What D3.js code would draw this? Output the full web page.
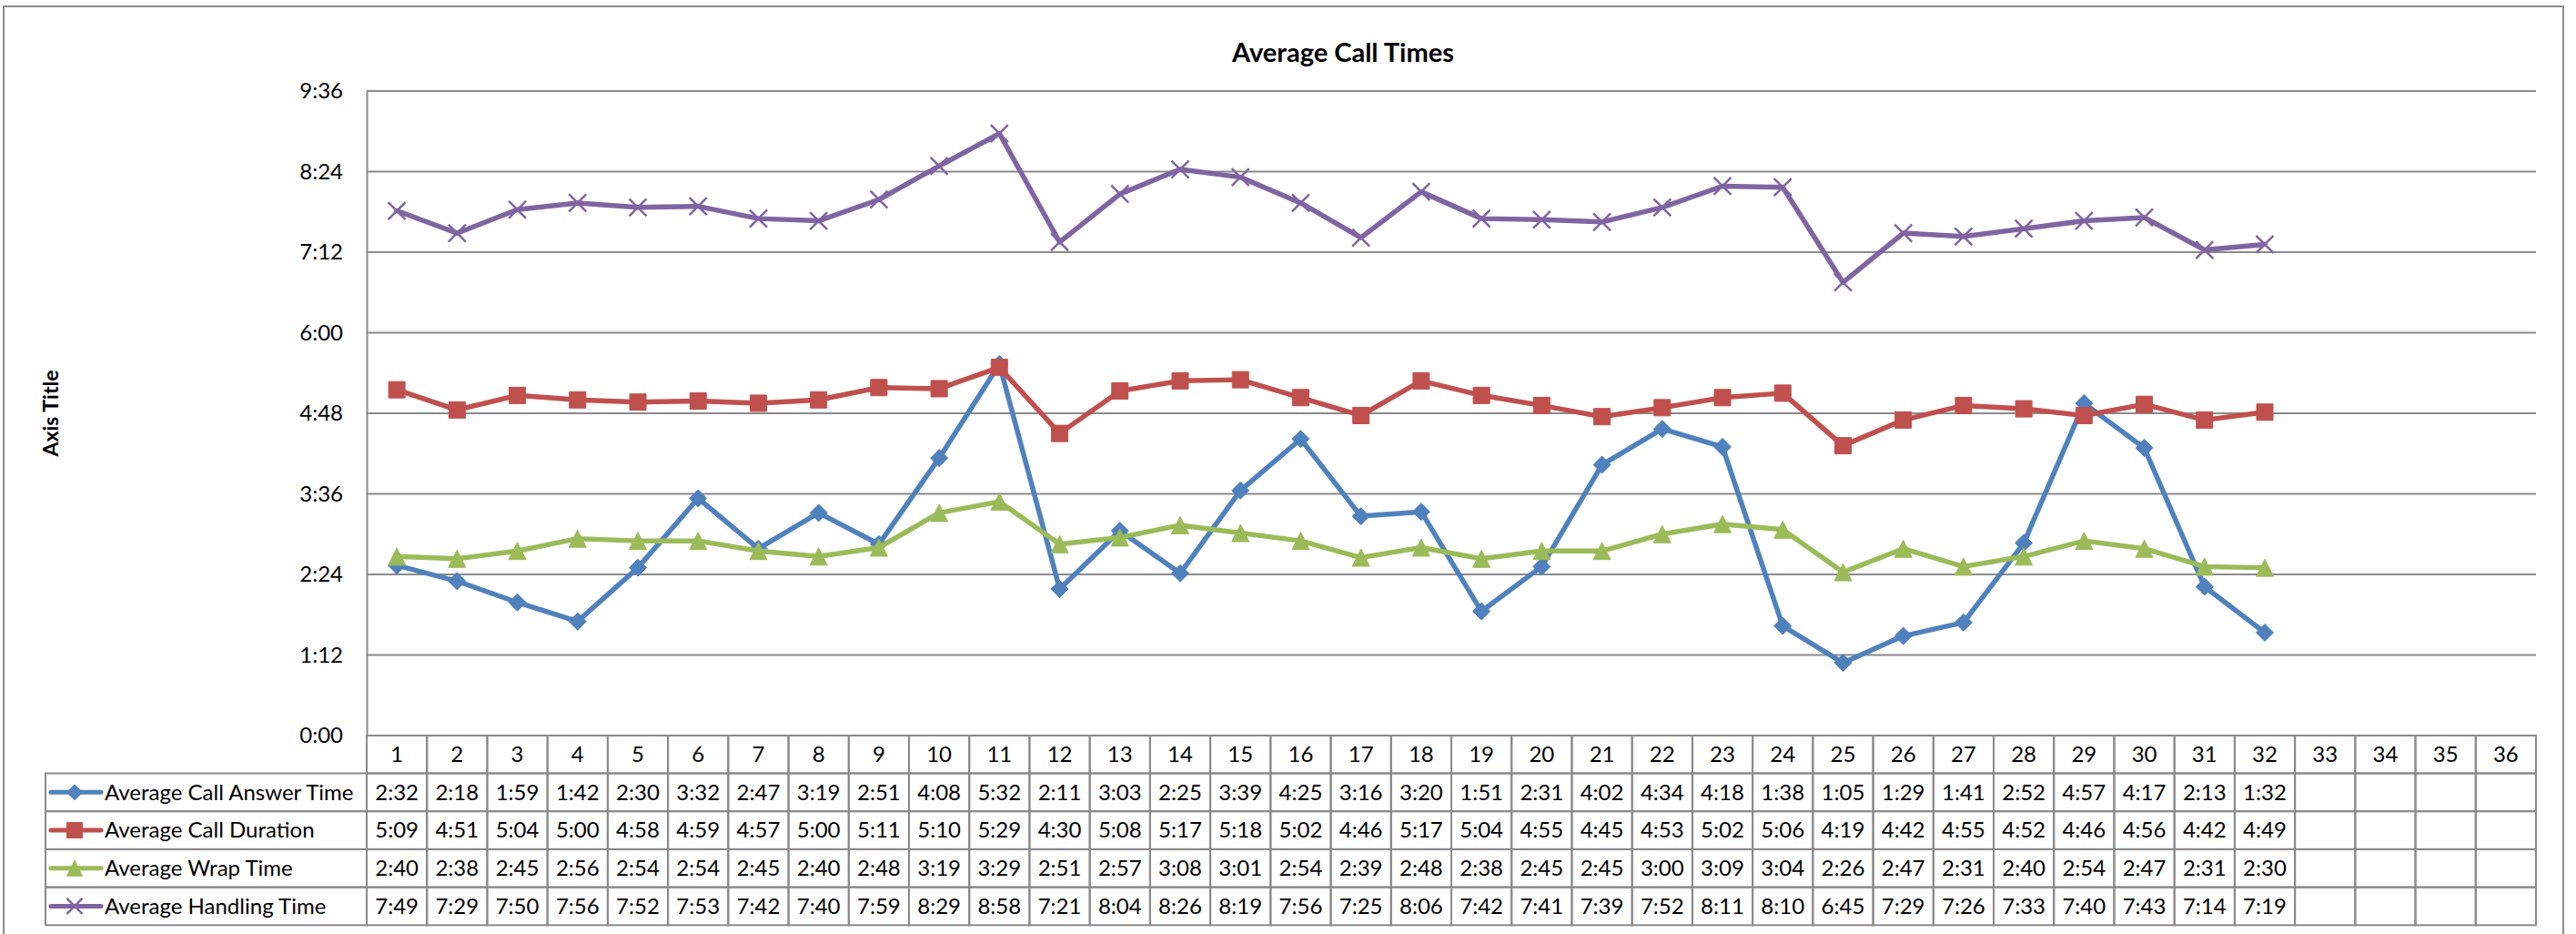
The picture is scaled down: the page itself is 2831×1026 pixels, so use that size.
<!DOCTYPE html>
<html><head><meta charset="utf-8">
<script src="https://cdn.jsdelivr.net/npm/d3@7"></script>
<style>
body{margin:0;background:#fff;}
text{font-family:Lato,"Noto Sans",sans-serif;fill:#000;}
</style>
</head><body>
<svg id="chart" width="2831" height="1026"></svg>
<script>
const chartTitle = "Average Call Times";
const axisTitle = "Axis Title";
const categories = ["1","2","3","4","5","6","7","8","9","10","11","12","13","14","15","16","17","18","19","20","21","22","23","24","25","26","27","28","29","30","31","32","33","34","35","36"];
const answerTime = ["2:32","2:18","1:59","1:42","2:30","3:32","2:47","3:19","2:51","4:08","5:32","2:11","3:03","2:25","3:39","4:25","3:16","3:20","1:51","2:31","4:02","4:34","4:18","1:38","1:05","1:29","1:41","2:52","4:57","4:17","2:13","1:32"];
const callDuration = ["5:09","4:51","5:04","5:00","4:58","4:59","4:57","5:00","5:11","5:10","5:29","4:30","5:08","5:17","5:18","5:02","4:46","5:17","5:04","4:55","4:45","4:53","5:02","5:06","4:19","4:42","4:55","4:52","4:46","4:56","4:42","4:49"];
const wrapTime = ["2:40","2:38","2:45","2:56","2:54","2:54","2:45","2:40","2:48","3:19","3:29","2:51","2:57","3:08","3:01","2:54","2:39","2:48","2:38","2:45","2:45","3:00","3:09","3:04","2:26","2:47","2:31","2:40","2:54","2:47","2:31","2:30"];
const handlingTime = ["7:49","7:29","7:50","7:56","7:52","7:53","7:42","7:40","7:59","8:29","8:58","7:21","8:04","8:26","8:19","7:56","7:25","8:06","7:42","7:41","7:39","7:52","8:11","8:10","6:45","7:29","7:26","7:33","7:40","7:43","7:14","7:19"];
const seriesNames = ["Average Call Answer Time","Average Call Duration","Average Wrap Time","Average Handling Time"];
const seriesMarkers = ["diamond","square","triangle","x"];
const seriesColors = ["#4F81BD","#C0504D","#9BBB59","#8064A2"];
const yTickLabels = ["0:00","1:12","2:24","3:36","4:48","6:00","7:12","8:24","9:36"];

const toSec = s => { const [m, ss] = s.split(":").map(Number); return m * 60 + ss; };
const series = [answerTime, callDuration, wrapTime, handlingTime].map((vals, i) => ({
  name: seriesNames[i], marker: seriesMarkers[i], color: seriesColors[i], labels: vals,
  values: vals.map((v, j) => ({cat: categories[j], sec: toSec(v)}))
}));
const yTicks = yTickLabels.map(toSec);

const svg = d3.select("#chart");
const gridColor = "#8a8a8a";
const plot = {left: 403, right: 2787, top: 100, bottom: 808};

// outer chart border
svg.append("rect").attr("x", 4).attr("y", 7).attr("width", 2813).attr("height", 1040)
  .attr("fill", "#fff").attr("stroke", "#8c8c8c").attr("stroke-width", 2);

const x = d3.scaleBand().domain(categories).range([plot.left, plot.right]).paddingInner(0).paddingOuter(0);
const y = d3.scaleLinear().domain([0, d3.max(yTicks)]).range([plot.bottom, plot.top]);

// title
svg.append("text").attr("x", 1476).attr("y", 68).attr("text-anchor", "middle")
  .attr("font-size", 29).attr("font-weight", "bold").text(chartTitle);

// axis title
svg.append("text").attr("transform", `translate(64,${(plot.top + plot.bottom) / 2}) rotate(-90)`)
  .attr("text-anchor", "middle").attr("font-size", 23).attr("font-weight", "bold").text(axisTitle);

// y axis with gridlines
const yAxis = d3.axisLeft(y).tickValues(yTicks)
  .tickFormat((d, i) => yTickLabels[i]).tickSize(0).tickPadding(26);
const gy = svg.append("g").attr("transform", `translate(${plot.left},0)`).call(yAxis);
gy.select(".domain").attr("stroke", gridColor).attr("stroke-width", 2);
gy.selectAll(".tick text").attr("font-size", 24).attr("font-family", "Lato,'Noto Sans',sans-serif").attr("fill", "#000");
svg.append("g").selectAll("line").data(yTicks).join("line")
  .attr("x1", plot.left).attr("x2", plot.right)
  .attr("y1", d => y(d)).attr("y2", d => y(d))
  .attr("stroke", gridColor).attr("stroke-width", 2);

// series lines
const cx = c => x(c) + x.bandwidth() / 2;
const line = d3.line().x(d => cx(d.cat)).y(d => y(d.sec));

function markerPath(type, s) {
  const h = s / 2;
  if (type === "diamond") return `M0,${-h}L${h},0L0,${h}L${-h},0Z`;
  if (type === "square") return `M${-h},${-h}H${h}V${h}H${-h}Z`;
  if (type === "triangle") return `M0,${-h}L${h},${h}L${-h},${h}Z`;
  return `M${-h},${-h}L${h},${h}M${h},${-h}L${-h},${h}`;
}
function drawMarker(g, type, color, size) {
  const p = g.append("path").attr("d", markerPath(type, size));
  if (type === "x") p.attr("fill", "none").attr("stroke", color).attr("stroke-width", 2.5);
  else p.attr("fill", color).attr("stroke", color).attr("stroke-width", 1);
}

series.forEach(s => {
  const g = svg.append("g");
  g.append("path").datum(s.values).attr("d", line).attr("fill", "none")
    .attr("stroke", s.color).attr("stroke-width", 5.5)
    .attr("stroke-linejoin", "round").attr("stroke-linecap", "round");
  s.values.forEach(d => {
    const mg = g.append("g").attr("transform", `translate(${cx(d.cat)},${y(d.sec)})`);
    drawMarker(mg, s.marker, s.color, s.marker === "square" ? 18 : 19);
  });
});

// data table
const headerTop = plot.bottom, headerH = 41.5, rowH = 41.7;
const tableLeft = 50;
const tg = svg.append("g");
const cellStroke = g => g.attr("fill", "none").attr("stroke", gridColor).attr("stroke-width", 2);
categories.forEach(c => {
  tg.append("rect").attr("x", x(c)).attr("y", headerTop).attr("width", x.bandwidth()).attr("height", headerH).call(cellStroke);
  tg.append("text").attr("x", cx(c)).attr("y", headerTop + headerH / 2).attr("dy", "0.35em")
    .attr("text-anchor", "middle").attr("font-size", 24).text(c);
});
series.forEach((s, i) => {
  const top = headerTop + headerH + i * rowH;
  const mid = top + rowH / 2;
  tg.append("rect").attr("x", tableLeft).attr("y", top).attr("width", plot.left - tableLeft).attr("height", rowH).call(cellStroke);
  categories.forEach(c => {
    tg.append("rect").attr("x", x(c)).attr("y", top).attr("width", x.bandwidth()).attr("height", rowH).call(cellStroke);
  });
  s.values.forEach((d, j) => {
    tg.append("text").attr("x", cx(d.cat)).attr("y", mid).attr("dy", "0.35em")
      .attr("text-anchor", "middle").attr("font-size", 24).text(s.labels[j]);
  });
  // legend key
  tg.append("line").attr("x1", 56).attr("x2", 111).attr("y1", mid).attr("y2", mid)
    .attr("stroke", s.color).attr("stroke-width", 5).attr("stroke-linecap", "round");
  const kg = tg.append("g").attr("transform", `translate(82,${mid})`);
  drawMarker(kg, s.marker, s.color, 17);
  tg.append("text").attr("x", 115).attr("y", mid).attr("dy", "0.35em")
    .attr("font-size", 24).text(s.name);
});
</script>
</body></html>
